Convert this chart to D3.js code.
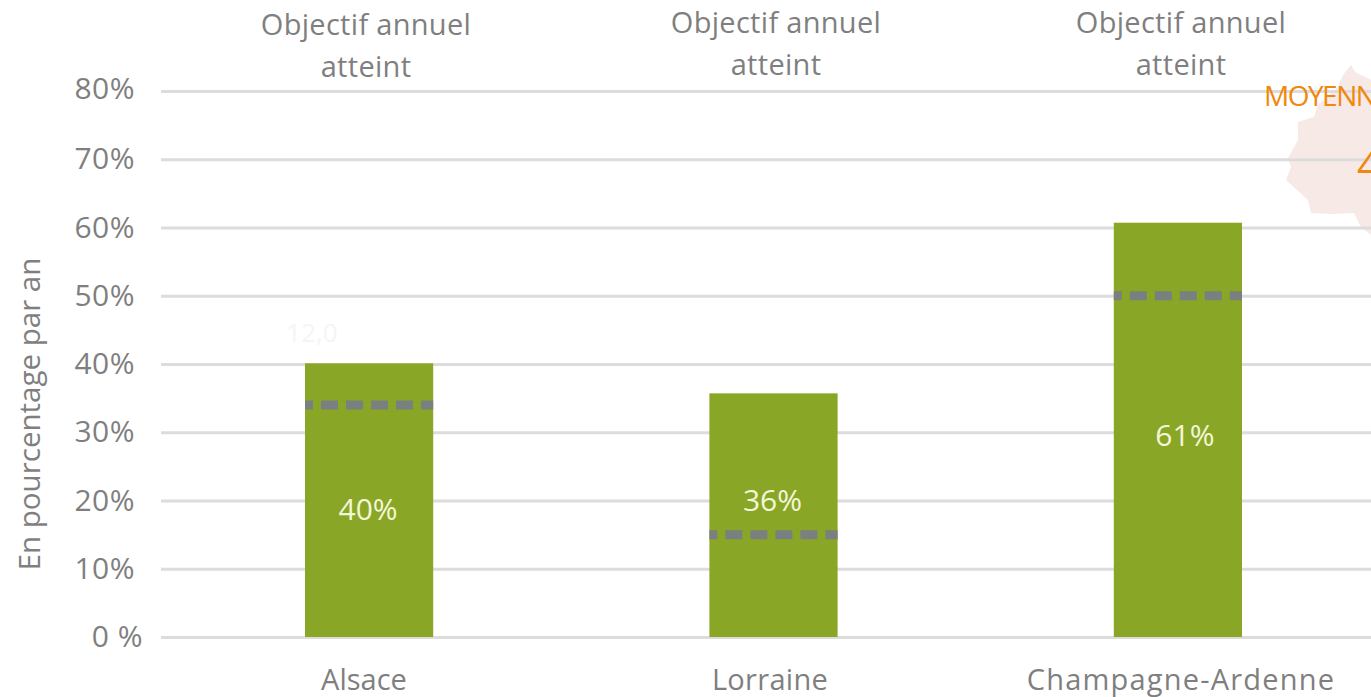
<!DOCTYPE html>
<html>
<head>
<meta charset="utf-8">
<script src="https://cdn.jsdelivr.net/npm/d3@7"></script>
<style>
  html, body { margin: 0; padding: 0; background: #fff; overflow: hidden; }
  text { font-family: "Open Sans", sans-serif; }
</style>
</head>
<body>
<div class="chart"></div>
<script>
const WIDTH = 1371;
const HEIGHT = 697;

const regions = ['Alsace', 'Lorraine', 'Champagne-Ardenne'];
const rates = [40.1, 35.7, 60.7];
const rateLabels = ['40%', '36%', '61%'];
const targets = [34, 15, 50];
const statusLabel = ['Objectif annuel', 'atteint'];
const yTicks = [0, 10, 20, 30, 40, 50, 60, 70, 80];

const GREY = '#7f7f7f';
const GREEN = '#8aa626';

const svg = d3.select('.chart')
    .append('svg')
    .attr('width', WIDTH)
    .attr('height', HEIGHT)
    .style('display', 'block');

const y = d3.scaleLinear().domain([0, 80]).range([637, 91]);
const x = d3.scaleBand().domain(regions).range([305, 1242]).paddingInner(0.683);

// faded map behind the plot, cut by the page edge
svg.append('path')
    .attr('d', 'M1351 65 L1355 72 L1371 80 L1371 235 L1361 227 L1354 213 L1332 214 L1311 213 L1308 200 L1286 180 L1291 167 L1288 158 L1298 140 L1298 122 L1314 117 L1318 105 L1338 87 L1343 75 Z')
    .attr('fill', '#f6e9e6');

// gridlines
svg.append('g')
    .attr('class', 'grid')
    .call(d3.axisLeft(y).tickValues(yTicks).tickSize(-(WIDTH - 161)).tickFormat(''))
    .attr('transform', 'translate(161,0)')
    .call((g) => g.select('.domain').remove())
    .call((g) => g.selectAll('line').attr('stroke', '#dcdcdc').attr('stroke-width', 3));

// y labels
svg.selectAll('.y-label')
    .data(yTicks)
    .enter()
    .append('text')
    .attr('class', 'y-label')
    .attr('x', (d) => d === 0 ? 143 : 135)
    .attr('y', (d) => y(d) + (d === 80 ? 8 : 10))
    .attr('text-anchor', 'end')
    .attr('fill', GREY)
    .attr('font-size', 30)
    .attr('letter-spacing', 0.5)
    .text((d) => d === 0 ? '0 %' : d + '%');

svg.append('text')
    .attr('transform', 'translate(40,414) rotate(-90)')
    .attr('text-anchor', 'middle')
    .attr('fill', GREY)
    .attr('font-size', 29.5)
    .text('En pourcentage par an');

// bars
svg.selectAll('.bar')
    .data(regions)
    .enter()
    .append('rect')
    .attr('class', 'bar')
    .attr('x', (d) => x(d))
    .attr('y', (d, i) => y(rates[i]))
    .attr('width', x.bandwidth())
    .attr('height', (d, i) => y(0) - y(rates[i]))
    .attr('fill', GREEN);

// target dashes
svg.selectAll('.target')
    .data(regions)
    .enter()
    .append('line')
    .attr('class', 'target')
    .attr('x1', (d) => x(d))
    .attr('x2', (d) => x(d) + x.bandwidth())
    .attr('y1', (d, i) => y(targets[i]))
    .attr('y2', (d, i) => y(targets[i]))
    .attr('stroke', '#7a7f80')
    .attr('stroke-width', 9)
    .attr('stroke-dasharray', '17 8')
    .attr('stroke-dashoffset', 9);

// value labels, their heights vary by bar
const rateLabelY = [510, 501, 436];
svg.selectAll('.rate')
    .data(regions)
    .enter()
    .append('text')
    .attr('class', 'rate')
    .attr('x', (d) => x(d) + x.bandwidth() / 2 - 1 + (d === 'Champagne-Ardenne' ? 8 : 0))
    .attr('y', (d, i) => rateLabelY[i] + 10)
    .attr('text-anchor', 'middle')
    .attr('fill', '#f2f7d8')
    .attr('font-size', 30)
    .text((d, i) => rateLabels[i]);

// category labels
const regionLabelX = [364, 770, 1181];
const regionSpacing = [0, 0.3, 1.2];
svg.selectAll('.region')
    .data(regions)
    .enter()
    .append('text')
    .attr('class', 'region')
    .attr('x', (d, i) => regionLabelX[i])
    .attr('y', 690)
    .attr('text-anchor', 'middle')
    .attr('fill', GREY)
    .attr('font-size', 29)
    .attr('letter-spacing', (d, i) => regionSpacing[i])
    .text((d) => d);

// note above each bar
const statusX = [366, 776, 1181];
const statusY = [35, 33, 33];
regions.forEach((r, i) => {
  statusLabel.forEach((line, j) => {
    svg.append('text')
        .attr('x', statusX[i])
        .attr('y', statusY[i] + j * 42)
        .attr('text-anchor', 'middle')
        .attr('fill', GREY)
        .attr('font-size', 29)
        .attr('letter-spacing', 0.3)
        .text(line);
  });
});

// leftovers from the original slide
svg.append('text')
    .attr('x', 1264)
    .attr('y', 106)
    .attr('fill', '#f0880f')
    .attr('font-size', 28)
    .attr('letter-spacing', -1.5)
    .text('MOYENNE');

svg.append('text')
    .attr('x', 1357)
    .attr('y', 180)
    .attr('fill', '#f0880f')
    .attr('font-size', 40)
    .text('4');

svg.append('text')
    .attr('x', 312)
    .attr('y', 342)
    .attr('text-anchor', 'middle')
    .attr('fill', '#f5f5f5')
    .attr('font-size', 26)
    .text('12,0');
</script>
</body>
</html>
